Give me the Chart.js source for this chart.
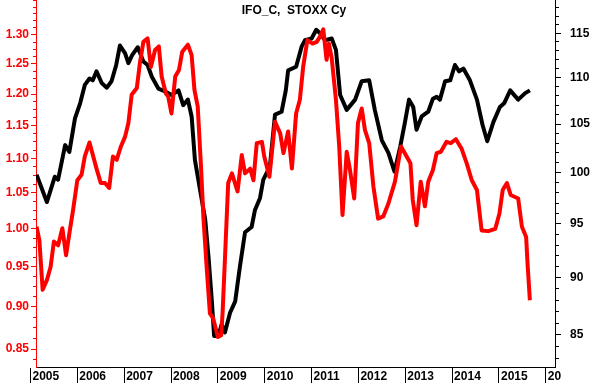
<!DOCTYPE html>
<html lang="en">
<head>
    <meta charset="UTF-8">
    <script src="https://cdn.jsdelivr.net/npm/chart.js"></script>
    <style>
        body { margin: 0; background: #fff; }
    </style>
</head>
<body>
    <canvas id="chart" width="591" height="383"></canvas>

    <script>
        // IFO (black, right axis)
        const ifoDates = [2005.13,2005.35,2005.52,2005.59,2005.74,2005.83,2005.95,2006.06,2006.16,2006.26,
            2006.33,2006.41,2006.52,2006.63,2006.73,2006.83,2006.91,2007.02,2007.09,2007.17,
            2007.29,2007.41,2007.50,2007.59,2007.73,2007.87,2008.01,2008.16,2008.26,2008.36,
            2008.44,2008.51,2008.62,2008.73,2008.80,2008.87,2008.92,2009.01,2009.08,2009.15,
            2009.26,2009.37,2009.47,2009.58,2009.72,2009.79,2009.90,2009.97,2010.11,2010.22,
            2010.36,2010.45,2010.50,2010.67,2010.79,2010.86,2011.00,2011.10,2011.18,2011.29,
            2011.43,2011.52,2011.61,2011.75,2011.93,2012.07,2012.23,2012.35,2012.50,2012.64,
            2012.77,2012.89,2012.99,2013.08,2013.17,2013.24,2013.35,2013.49,2013.59,2013.67,
            2013.74,2013.85,2013.96,2014.06,2014.15,2014.24,2014.38,2014.53,2014.65,2014.75,
            2014.88,2015.02,2015.11,2015.24,2015.41,2015.56,2015.66];
        const ifoValues = [99.8,97.1,99.6,99.3,102.8,102.1,105.6,107.2,109.2,109.9,
            109.7,110.7,109.4,108.9,109.6,111.4,113.6,112.7,111.6,112.5,
            113.4,111.8,111.4,110.1,108.8,108.5,108.1,108.6,107.0,107.6,
            105.8,101.3,98.3,95.4,91.9,88.0,84.9,84.9,85.9,85.2,
            86.9,87.9,91.0,94.2,94.7,96.3,97.5,99.3,100.6,106.0,
            106.3,108.6,110.8,111.2,113.5,114.2,114.4,115.4,115.0,114.2,
            114.4,113.1,108.1,106.5,107.6,109.6,109.7,106.5,103.3,102.0,
            100.1,102.6,105.1,107.6,106.8,104.4,105.8,106.3,107.7,107.9,
            107.6,109.6,109.7,111.4,110.7,111.0,109.7,107.6,104.9,103.2,
            105.2,106.8,107.2,108.6,107.6,108.3,108.6];

        // STOXX cyclicals (red, left axis)
        const stoxxDates = [2005.13,2005.19,2005.26,2005.35,2005.43,2005.50,2005.59,2005.68,2005.76,2005.84,
            2005.91,2006.00,2006.09,2006.16,2006.26,2006.34,2006.41,2006.50,2006.59,2006.68,
            2006.76,2006.84,2006.93,2007.02,2007.09,2007.16,2007.27,2007.34,2007.41,2007.50,
            2007.57,2007.66,2007.74,2007.80,2007.89,2007.94,2008.01,2008.09,2008.17,2008.24,
            2008.36,2008.44,2008.50,2008.57,2008.64,2008.69,2008.76,2008.83,2008.90,2009.00,
            2009.07,2009.10,2009.15,2009.22,2009.30,2009.42,2009.51,2009.58,2009.69,2009.76,
            2009.83,2009.94,2009.99,2010.10,2010.22,2010.33,2010.40,2010.50,2010.58,2010.67,
            2010.75,2010.82,2010.91,2011.02,2011.11,2011.18,2011.25,2011.32,2011.37,2011.43,
            2011.52,2011.59,2011.66,2011.75,2011.82,2011.91,2011.99,2012.07,2012.14,2012.23,
            2012.32,2012.42,2012.53,2012.64,2012.78,2012.91,2013.03,2013.11,2013.16,2013.24,
            2013.33,2013.42,2013.49,2013.59,2013.67,2013.76,2013.88,2013.97,2014.08,2014.20,
            2014.31,2014.42,2014.53,2014.63,2014.77,2014.92,2015.01,2015.08,2015.17,2015.25,
            2015.41,2015.49,2015.58,2015.61,2015.66];
        const stoxxValues = [1.003,0.985,0.921,0.933,0.950,0.983,0.978,1.001,0.965,0.998,
            1.026,1.068,1.076,1.103,1.124,1.103,1.085,1.064,1.064,1.057,
            1.103,1.098,1.118,1.133,1.154,1.199,1.210,1.254,1.288,1.294,
            1.245,1.274,1.280,1.229,1.201,1.196,1.169,1.229,1.240,1.271,
            1.283,1.265,1.207,1.180,1.088,1.017,0.950,0.892,0.886,0.864,
            0.866,0.892,0.959,1.064,1.078,1.052,1.105,1.078,1.085,1.068,
            1.123,1.125,1.103,1.073,1.156,1.138,1.108,1.141,1.085,1.169,
            1.191,1.245,1.291,1.285,1.288,1.297,1.310,1.257,1.285,1.260,
            1.191,1.118,1.019,1.110,1.083,1.042,1.154,1.177,1.143,1.123,
            1.059,1.014,1.017,1.035,1.066,1.118,1.103,1.093,1.040,1.005,
            1.066,1.031,1.066,1.083,1.108,1.110,1.125,1.123,1.129,1.115,
            1.093,1.068,1.054,0.998,0.997,1.000,1.021,1.054,1.064,1.047,
            1.042,1.003,0.989,0.954,0.908];

        const years = [2005,2006,2007,2008,2009,2010,2011,2012,2013,2014,2015,2016];
        const yearLabels = ['2005','2006','2007','2008','2009','2010','2011','2012','2013','2014','2015','20'];
        const leftMajor = [0.85,0.90,0.95,1.00,1.05,1.10,1.15,1.20,1.25,1.30];
        const rightMajor = [85,90,95,100,105,110,115];

        const leftTicks = [];
        for (let i = 67; i <= 109; i++) leftTicks.push(+(i * 0.0125).toFixed(4));
        const rightTicks = [];
        for (let v = 83; v <= 118; v++) rightTicks.push(v);

        const isIn = (list, v) => list.some(m => Math.abs(m - v) < 1e-6);
        const font = { family: 'Arial, "Liberation Sans", sans-serif', size: 12, weight: 'bold' };

        // the chart area has to run right up to the edges, no label overhang
        const noPad = s => { s.paddingTop = 0; s.paddingBottom = 0; s.paddingLeft = 0; s.paddingRight = 0; };

        const titlePlugin = {
            id: 'topTitle',
            afterDraw(chart) {
                const c = chart.ctx;
                c.save();
                c.font = 'bold 12px Arial, "Liberation Sans", sans-serif';
                c.fillStyle = '#000';
                c.textAlign = 'center';
                c.textBaseline = 'alphabetic';
                c.fillText('IFO_C,  STOXX Cy', 294, 14);
                c.restore();
            }
        };

        new Chart(document.getElementById('chart'), {
            type: 'line',
            data: {
                datasets: [{
                    label: 'STOXX Cy',
                    data: stoxxDates.map((d, i) => ({ x: d, y: stoxxValues[i] })),
                    borderColor: '#ff0000',
                    borderWidth: 4,
                    pointRadius: 0,
                    tension: 0,
                    borderJoinStyle: 'round',
                    yAxisID: 'yL'
                }, {
                    label: 'IFO_C',
                    data: ifoDates.map((d, i) => ({ x: d, y: ifoValues[i] })),
                    borderColor: '#000000',
                    borderWidth: 4,
                    pointRadius: 0,
                    tension: 0,
                    borderJoinStyle: 'round',
                    yAxisID: 'yR'
                }]
            },
            options: {
                responsive: false,
                animation: false,
                devicePixelRatio: 1,
                layout: { padding: 0 },
                plugins: { legend: { display: false }, tooltip: { enabled: false } },
                scales: {
                    x: {
                        type: 'linear', min: 2005.118, max: 2016.196, bounds: 'data',
                        afterBuildTicks: s => { s.ticks = years.map(v => ({ value: v })); },
                        afterFit: s => { s.height = 16; noPad(s); },
                        ticks: {
                            autoSkip: false, maxRotation: 0, minRotation: 0,
                            align: 'start', labelOffset: 2, padding: -14,
                            color: '#000', font: font,
                            callback: v => yearLabels[years.indexOf(v)] || ''
                        },
                        grid: { drawOnChartArea: false, tickLength: 16, tickColor: '#000', tickWidth: 1 },
                        border: { color: '#000', width: 1 }
                    },
                    yL: {
                        type: 'logarithmic', position: 'left', min: 0.8296, max: 1.363, bounds: 'data',
                        afterBuildTicks: s => { s.ticks = leftTicks.map(v => ({ value: v })); },
                        afterFit: s => { s.width = 36; noPad(s); },
                        ticks: {
                            autoSkip: false, padding: 2, color: '#ff0000', font: font,
                            callback: v => isIn(leftMajor, v) ? v.toFixed(2) : ''
                        },
                        grid: {
                            drawOnChartArea: false, tickLength: 5, tickColor: '#ff0000', tickWidth: 1,
                            tickBorderDash: c => (c.tick && isIn(leftMajor, c.tick.value)) ? [] : [0, 2, 3, 100]
                        },
                        border: { color: '#ff0000', width: 1 }
                    },
                    yR: {
                        type: 'logarithmic', position: 'right', min: 82.3, max: 118.9, bounds: 'data',
                        afterBuildTicks: s => { s.ticks = rightTicks.map(v => ({ value: v })); },
                        afterFit: s => { s.width = 36; noPad(s); },
                        ticks: {
                            autoSkip: false, padding: 9, color: '#000', font: font,
                            callback: v => isIn(rightMajor, v) ? String(v) : ''
                        },
                        grid: {
                            drawOnChartArea: false, tickLength: 6, tickColor: '#000', tickWidth: 1,
                            tickBorderDash: c => (c.tick && isIn(rightMajor, c.tick.value)) ? [] : [3, 100]
                        },
                        border: { color: '#000', width: 1 }
                    }
                }
            },
            plugins: [titlePlugin]
        });
    </script>
</body>
</html>
